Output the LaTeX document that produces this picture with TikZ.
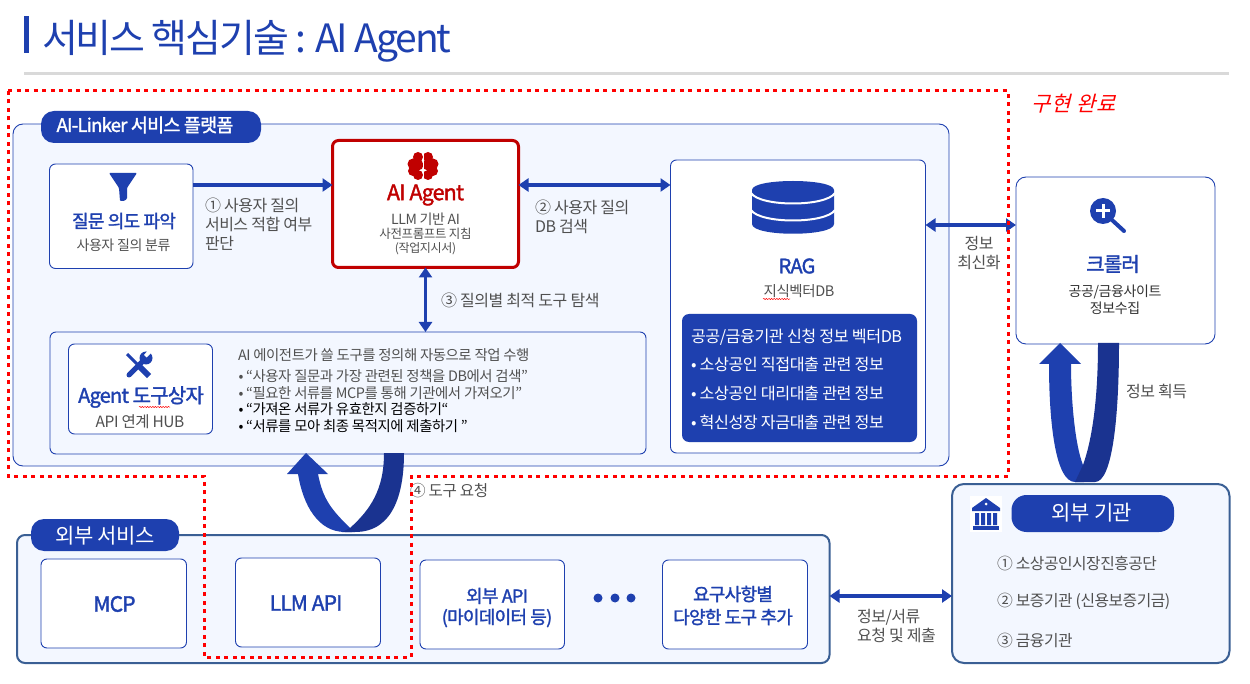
\documentclass[tikz,border=0pt]{standalone}
\usepackage{fontspec}
\setmainfont[LetterSpace=-3]{Noto Sans CJK KR}
\newfontfamily\krt[LetterSpace=-5.5]{Noto Sans CJK KR}
\newfontfamily\krb[LetterSpace=-4,FakeBold=1.6]{Noto Sans CJK KR}
\newfontfamily\krs[FakeSlant=0.25,LetterSpace=4]{Noto Sans CJK KR}
\usetikzlibrary{arrows.meta,decorations.pathmorphing}
\definecolor{bl}{HTML}{1E40AF}
\definecolor{dk}{HTML}{1A3390}
\definecolor{pn}{HTML}{F3F7FF}
\definecolor{st}{HTML}{3A5F94}
\definecolor{ag}{HTML}{C00000}
\definecolor{tx}{HTML}{505050}
\newcommand{\fs}[2]{\fontsize{#1}{#2}\selectfont}
\newcommand{\bx}[6]{\node[#2,minimum width=#5pt-#3pt,minimum height=#6pt-#4pt] (#1) at ({(#3+#5)/2},{(#4+#6)/2}) {};}
\tikzset{
  shp/.style={inner sep=0pt,outer sep=0pt,rectangle},
  panel/.style={shp,draw=bl,fill=pn,line width=.9pt,rounded corners=10pt},
  extpanel/.style={shp,draw=st,fill=pn,line width=2pt,rounded corners=8pt},
  card/.style={shp,draw=bl,fill=white,line width=.9pt,rounded corners=6pt},
  agentcard/.style={shp,draw=ag,fill=white,line width=3pt,rounded corners=6pt},
  pill/.style={shp,fill=bl,rounded corners=13pt},
  bluebox/.style={shp,fill=bl,rounded corners=7pt},
  lbl/.style={inner sep=0pt,outer sep=0pt,anchor=west,align=left,text=tx},
  ctr/.style={inner sep=0pt,outer sep=0pt,anchor=center,align=center,text=tx},
  both/.style={line width=3.5pt,draw=bl,{Triangle[length=10pt,width=13pt]}-{Triangle[length=10pt,width=13pt]}},
  one/.style={line width=3.5pt,draw=bl,-{Triangle[length=10pt,width=13pt]}},
  squig/.style={draw=red,line width=.5pt,decorate,decoration={snake,amplitude=.6pt,segment length=2.6pt}},
}
\begin{document}
\begin{tikzpicture}[x=1pt,y=-1pt]
\useasboundingbox (0,0) rectangle (1250,684);
% title
\fill[bl] (24,16) rectangle (29,53);
\node[lbl,text=bl,font=\krt\fs{39}{43}] (title) at (42,41) {서비스 핵심기술 : AI Agent};
\fill[gray!30] (24,72) rectangle (1229,75);
% platform
\bx{platform}{panel}{13}{124}{949}{466}
\bx{platpill}{pill}{41}{111}{261}{143}
\node[ctr,text=white,font=\krb\fs{18.5}{20}] (plattext) at (145,125) {AI-Linker 서비스 플랫폼};
% intent
\bx{intent}{card}{49.5}{164}{193}{268.5}
\fill[bl,rounded corners=1pt] (109,173)--(137,173)--(127,188)--(127,199)--(124,201)--(120,201)--(119,188)--cycle;
\node[ctr,text=bl,font=\krb\fs{18}{20}] (intenta) at (124,221) {질문 의도 파악};
\node[ctr,font=\fs{14}{16}] (intentb) at (123.5,245) {사용자 질의 분류};
% agent
\bx{agent}{agentcard}{332.5}{140.5}{518.5}{267.5}
\fill[ag] (418,157) circle (5) (413,164) circle (5.5) (413,171) circle (5) (418,175) circle (5) (418,165) circle (5.5)
          (428,157) circle (5) (433,164) circle (5.5) (433,171) circle (5) (428,175) circle (5) (428,165) circle (5.5);
\draw[white,line width=1pt] (423,151)--(423,181);
\node[ctr,text=ag,font=\krb\fs{21.5}{24}] (agenta) at (425.5,195) {AI Agent};
\node[ctr,font=\fs{14}{16}] (agentb) at (425.5,219) {LLM 기반 AI};
\node[ctr,font=\fs{12.5}{14}] (agentc) at (425.5,234) {사전프롬프트 지침};
\node[ctr,font=\fs{12}{14}] (agentd) at (425.5,249) {(작업지시서)};
% rag
\bx{rag}{card}{670.5}{160}{925.5}{453}
\fill[bl] (752,190) .. controls (752,178) and (834,178) .. (834,190) -- (834,224) .. controls (834,237) and (752,237) .. (752,224) -- cycle;
\draw[white,line width=2pt] (751,193) .. controls (760,207) and (826,207) .. (835,193);
\draw[white,line width=2pt] (751,210) .. controls (760,224) and (826,224) .. (835,210);
\node[ctr,text=bl,font=\krb\fs{20}{22}] (raga) at (797,266) {RAG};
\node[ctr,font=\fs{14.5}{16}] (ragb) at (799,291) {지식벡터DB};
\draw[squig] (763,299) -- (790,299);
\bx{ragbox}{bluebox}{682}{314}{917}{442}
\node[lbl,text=white,font=\fs{16.2}{18}] (r1) at (691,337) {공공/금융기관 신청 정보 벡터DB};
\node[lbl,text=white,font=\fs{16.2}{18}] (r2) at (691,364) {• 소상공인 직접대출 관련 정보};
\node[lbl,text=white,font=\fs{16.2}{18}] (r3) at (691,393) {• 소상공인 대리대출 관련 정보};
\node[lbl,text=white,font=\fs{16.2}{18}] (r4) at (691,422) {• 혁신성장 자금대출 관련 정보};
% toolbox
\bx{toolbox}{panel,rounded corners=6pt}{50}{332}{646}{454}
\bx{toolcard}{card}{68.5}{344}{212.5}{434}
\draw[bl,line width=3pt] (127,354)--(138,365);
\draw[bl,line width=6pt] (138,365)--(149,376);
\draw[bl,line width=5pt,line cap=round] (129,375)--(146,358);
\fill[bl] (146,358) circle (6.5);
\fill[white] (146.5,357.5)--(153,351)--(149,349)--(144,355)--cycle;
\node[ctr,text=bl,font=\krb\fs{20}{22}] (toola) at (141,397) {Agent 도구상자};
\draw[squig] (139,407) -- (170,407);
\node[ctr,font=\fs{15.5}{17}] (toolb) at (140,422) {API 연계 HUB};
\node[lbl,font=\fs{14.4}{16}] (t0) at (238,355) {AI 에이전트가 쓸 도구를 정의해 자동으로 작업 수행};
\node[lbl,font=\fs{14.4}{16}] (t1) at (238.5,376) {• “사용자 질문과 가장 관련된 정책을 DB에서 검색”};
\node[lbl,font=\fs{14.4}{16}] (t2) at (238.5,393) {• “필요한 서류를 MCP를 통해 기관에서 가져오기”};
\node[lbl,text=black,font=\fs{14.4}{16}] (t3) at (238.5,409) {• “가져온 서류가 유효한지 검증하기“};
\node[lbl,text=black,font=\fs{14.4}{16}] (t4) at (238.5,426) {• “서류를 모아 최종 목적지에 제출하기 ”};
% crawler
\bx{crawler}{card,rounded corners=10pt}{1016}{177}{1215}{344}
\fill[bl] (1103,211) circle (13);
\draw[white,line width=3pt] (1096,211)--(1110,211) (1103,204)--(1103,218);
\draw[bl,line width=4pt,line cap=round] (1112,220)--(1124,231);
\node[ctr,text=bl,font=\krb\fs{20}{22}] (craa) at (1113,264) {크롤러};
\node[ctr,text=black!80,font=\fs{14}{16.5}] (crab) at (1115,300) {공공/금융사이트\\정보수집};
% external services
\bx{ext}{extpanel}{17}{535}{829.5}{663}
\bx{extpill}{pill}{31}{519}{179}{551}
\node[ctr,text=white,font=\fs{21}{23}] (exttext) at (105,536) {외부 서비스};
\bx{mcp}{card}{41}{559}{186.5}{648}
\node[ctr,text=bl,font=\krb\fs{21}{23}] (mcpt) at (114.5,604) {MCP};
\bx{llm}{card}{235.5}{558}{380.5}{647}
\node[ctr,text=bl,font=\krb\fs{21}{23}] (llmt) at (306,603) {LLM API};
\bx{api}{card}{420}{560}{564.5}{649}
\node[ctr,text=bl,font=\krb\fs{18}{21}] (apit) at (497,607.5) {외부 API\\(마이데이터 등)};
\fill[bl] (598,598) circle (4.5) (615,598) circle (4.5) (631,598) circle (4.5);
\bx{more}{card}{662.5}{560}{807.5}{649}
\node[ctr,text=bl,font=\krb\fs{18}{23}] (moret) at (733,605.5) {요구사항별\\다양한 도구 추가};
% agencies
\bx{agency}{extpanel,rounded corners=12pt}{952}{484}{1229.5}{663}
\bx{bankbg}{shp,fill=white}{970}{496}{1002}{532}
\fill[bl] (986,498)--(1000,508)--(1000,511)--(972,511)--(972,508)--cycle;
\fill[white] (986,504) circle (1.5);
\fill[bl] (975,513) rectangle (979,525) (981,513) rectangle (985,525) (987,513) rectangle (991,525) (993,513) rectangle (997,525);
\fill[bl] (973,526) rectangle (999,530);
\bx{agpill}{pill,rounded corners=15pt}{1011.5}{495}{1174}{532}
\node[ctr,text=white,font=\fs{21}{23}] (agtext) at (1092,513) {외부 기관};
\node[lbl,font=\fs{15.8}{18}] (a1) at (997,563) {① 소상공인시장진흥공단};
\node[lbl,font=\fs{15.8}{18}] (a2) at (997,601) {② 보증기관 (신용보증기금)};
\node[lbl,font=\fs{15.8}{18}] (a3) at (997,640) {③ 금융기관};
% connectors
\draw[one] (intent.east |- 0,185) -- (agent.west |- 0,185);
\draw[both] (agent.east |- 0,185) -- (rag.west |- 0,185);
\draw[both] (agent.south) -- (agent.south |- toolbox.north);
\draw[both] (rag.east |- 0,225) -- (crawler.west |- 0,225);
\draw[both] (ext.east |- 0,596) -- (agency.west |- 0,596);
% labels
\node[lbl,font=\fs{16}{19}] (l1) at (205,224) {① 사용자 질의\\서비스 적합 여부\\판단};
\node[lbl,font=\fs{16}{19}] (l2) at (535,216.5) {② 사용자 질의\\DB 검색};
\node[lbl,font=\fs{16}{18}] (l3) at (441,300) {③ 질의별 최적 도구 탐색};
\node[ctr,font=\fs{16}{19}] (l5) at (979,253.5) {정보\\최신화};
\node[lbl,font=\fs{16}{18}] (l6) at (1126,391) {정보 획득};
\node[lbl,font=\fs{15.6}{18}] (l4) at (410,491) {④ 도구 요청};
\node[lbl,font=\fs{16}{19}] (l7) at (857,626.5) {정보/서류\\요청 및 제출};
% U arrows
\fill[bl] (298,474) .. controls (303,505) and (318,532) .. (345,532) -- (352,532) -- (350,528) .. controls (332,510) and (323,500) .. (318,474) -- (328,474) -- (306,453) -- (287,474) -- cycle;
\fill[dk] (384,453) -- (404,453) .. controls (404,490) and (395,532) .. (355,532) -- (342,532) -- (350,528) .. controls (370,510) and (384,490) .. (384,453) -- cycle;
\fill[bl] (1049,364) .. controls (1049,420) and (1055,482) .. (1075,482) -- (1084,482) -- (1083,465) .. controls (1075,445) and (1071,400) .. (1071,364) -- (1081,364) -- (1060,343) -- (1039,364) -- cycle;
\fill[dk] (1098,343) -- (1119,343) .. controls (1119,420) and (1112,482) .. (1095,482) -- (1075,482) -- (1083,465) .. controls (1092,440) and (1098,400) .. (1098,343) -- cycle;
% implemented region
\draw[red,line width=3pt,dash pattern=on 4pt off 4.5pt] (8,91) -- (1008,91) -- (1008,476) -- (411,476) -- (411,657) -- (204,657) -- (204,476) -- (8,476) -- cycle;
\node[lbl,text=red,font=\krs\fs{21}{24}] (done) at (1031,104) {구현 완료};
\end{tikzpicture}
\end{document}
